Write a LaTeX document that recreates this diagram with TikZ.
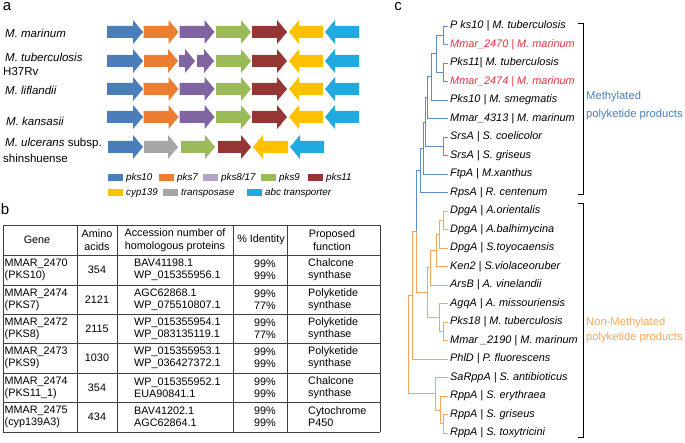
\documentclass[tikz,border=0pt]{standalone}
\usepackage{fontspec}
\setmainfont{Liberation Sans}
\definecolor{blu}{HTML}{4A7EBB}
\definecolor{arancio}{HTML}{ED7D31}
\definecolor{viola}{HTML}{8064A2}
\definecolor{lilla}{HTML}{B3A2C7}
\definecolor{verde}{HTML}{9BBB59}
\definecolor{rosso}{HTML}{963634}
\definecolor{giallo}{HTML}{FFC000}
\definecolor{ciano}{HTML}{21A9E1}
\definecolor{grigio}{HTML}{A6A6A6}
\definecolor{ramoblu}{HTML}{5B8ED0}
\definecolor{ramoaranc}{HTML}{F5A65B}
\definecolor{rossoetich}{HTML}{E5333B}
\begin{document}
\begin{tikzpicture}[x=1pt,y=-1pt,
    lettera/.style={inner sep=0pt,font=\fontsize{15}{15}\selectfont},
    specie/.style={anchor=west,inner sep=0pt,font=\fontsize{11.5}{12}\selectfont},
    legenda/.style={anchor=west,inner sep=0pt,font=\fontsize{9.8}{10}\selectfont\itshape},
    tab/.style={inner sep=0pt,font=\fontsize{10.8}{12}\selectfont},
    testa/.style={inner sep=0pt,align=center,font=\fontsize{10.8}{13.5}\selectfont},
    linea/.style={line width=0.8pt,black!75},
    foglia/.style={anchor=west,inner xsep=2pt,inner ysep=0pt,font=\fontsize{10.9}{11}\selectfont\itshape},
    ramo/.style={line width=0.8pt},
    gruppo/.style={anchor=west,inner sep=0pt,font=\fontsize{11.2}{12}\selectfont}]
    \useasboundingbox (0,0) rectangle (685,443);
    % --- macro riutilizzabili -----------------------------------------
    \def\freccia#1#2#3#4{\fill[#4] (#1,#3-6) -- (#2-10,#3-6) -- (#2-10,#3-12)
        -- (#2,#3) -- (#2-10,#3+12) -- (#2-10,#3+6) -- (#1,#3+6) -- cycle;}
    \def\frecciasx#1#2#3#4{\fill[#4] (#2,#3-6) -- (#1+10,#3-6) -- (#1+10,#3-12)
        -- (#1,#3) -- (#1+10,#3+12) -- (#1+10,#3+6) -- (#2,#3+6) -- cycle;}
    \def\unisci#1#2#3#4{\draw[ramo,#1] (#2) |- (#3) (#2) |- (#4);}
    % --- pannello a ---------------------------------------------------
    \node[lettera] (la) at (7,7) {a};
    \node[specie] (sp1) at (5,33) {\itshape M. marinum};
    \node[specie] (sp2) at (5,57) {\itshape M. tuberculosis};
    \node[specie] (sp2b) at (3,72) {H37Rv};
    \node[specie] (sp3) at (5,90) {\itshape M. liflandii};
    \node[specie] (sp4) at (6,121) {\itshape M. kansasii};
    \node[specie] (sp5) at (5,144) {\itshape M. ulcerans \upshape subsp.};
    \node[specie] (sp5b) at (3,158) {shinshuense};
    % --- frecce dei geni ----------------------------------------------
    \foreach \yy in {32,89,117}{
        \freccia{107}{143}{\yy}{blu}
        \freccia{143.5}{178.5}{\yy}{arancio}
        \freccia{179.5}{214.5}{\yy}{viola}
        \freccia{216}{251}{\yy}{verde}
        \freccia{252}{287}{\yy}{rosso}
        \frecciasx{289}{323}{\yy}{giallo}
        \frecciasx{325}{359}{\yy}{ciano}
    }
    \freccia{107}{143}{61}{blu}
    \freccia{144}{178}{61}{arancio}
    \freccia{179}{195}{61}{viola}
    \freccia{197}{214}{61}{viola}
    \freccia{216}{251}{61}{verde}
    \freccia{252}{287}{61}{rosso}
    \frecciasx{289}{323}{61}{giallo}
    \frecciasx{325}{359}{61}{ciano}
    \freccia{108}{143}{147}{blu}
    \freccia{144}{178}{147}{grigio}
    \freccia{181}{215}{147}{verde}
    \freccia{218}{251}{147}{rosso}
    \frecciasx{253}{288}{147}{giallo}
    \frecciasx{290}{324}{147}{ciano}
    % --- legenda ------------------------------------------------------
    \foreach \xx/\col/\nome in {108/blu/pks10,159/arancio/pks7,203/lilla/pks8\slash17,
                                261/verde/pks9,308/rosso/pks11}{
        \fill[\col] (\xx,174.5) rectangle (\xx+15,181);
        \node[legenda] at (\xx+18,178) {\nome};
    }
    \foreach \xx/\col/\nome in {108/giallo/cyp139,163/grigio/transposase,247/ciano/abc transporter}{
        \fill[\col] (\xx,189.5) rectangle (\xx+15,196);
        \node[legenda] at (\xx+18,193) {\nome};
    }
    % --- pannello b: tabella ------------------------------------------
    \node[lettera] (lb) at (5,209) {b};
    \foreach \yy in {225,255,285,314,343,373,402,432}
        \draw[linea] (3,\yy) -- (380,\yy);
    \foreach \xx in {3,77,117,233,287,380}
        \draw[linea] (\xx,225) -- (\xx,432);
    \node[testa] (tgene) at (37,240) {Gene};
    \node[testa] (tamino) at (97,240) {Amino\\acids};
    \node[testa] (tacc) at (175,240) {Accession number of\\homologous proteins};
    \node[testa] (tide) at (261,240) {\% Identity};
    \node[testa] (tfun) at (332,240) {Proposed\\function};
    \foreach \yy/\gen/\aa/\acc/\ide/\fun [count=\k] in {
        270/{MMAR\_2470\\(PKS10)}/354/{BAV41198.1\\WP\_015355956.1}/{99\%\\99\%}/{Chalcone\\synthase},
        299.5/{MMAR\_2474\\(PKS7)}/2121/{AGC62868.1\\WP\_075510807.1}/{99\%\\77\%}/{Polyketide\\synthase},
        328.5/{MMAR\_2472\\(PKS8)}/2115/{WP\_015355954.1\\WP\_083135119.1}/{99\%\\77\%}/{Polyketide\\synthase},
        358/{MMAR\_2473\\(PKS9)}/1030/{WP\_015355953.1\\WP\_036427372.1}/{99\%\\99\%}/{Polyketide\\synthase},
        387.5/{MMAR\_2474\\(PKS11\_1)}/354/{WP\_015355952.1\\EUA90841.1}/{99\%\\99\%}/{Chalcone\\synthase},
        417/{MMAR\_2475\\(cyp139A3)}/434/{BAV41202.1\\AGC62864.1}/{99\%\\99\%}/{Cytochrome\\P450}}{
        \node[tab,anchor=west,align=left] (gen\k) at (4.5,\yy) {\gen};
        \node[tab] (aa\k) at (97,\yy) {\aa};
        \node[tab,anchor=west,align=left] (acc\k) at (134,\yy) {\acc};
        \node[tab,align=center] (ide\k) at (265,\yy) {\ide};
        \node[tab,anchor=west,align=left] (fun\k) at (308,\yy) {\fun};
    }
    % --- pannello c: albero -------------------------------------------
    \node[lettera] (lc) at (398,7) {c};
    \foreach \i/\testo/\col in {
        0/{P ks10 | M. tuberculosis}/black,
        1/{Mmar\_2470 | M. marinum}/rossoetich,
        2/{Pks11| M. tuberculosis}/black,
        3/{Mmar\_2474 | M. marinum}/rossoetich,
        4/{Pks10 | M. smegmatis}/black,
        5/{Mmar\_4313 | M. marinum}/black,
        6/{SrsA | S. coelicolor}/black,
        7/{SrsA | S. griseus}/black,
        8/{FtpA | M.xanthus}/black,
        9/{RpsA | R. centenum}/black,
        10/{DpgA | A.orientalis}/black,
        11/{DpgA | A.balhimycina}/black,
        12/{DpgA | S.toyocaensis}/black,
        13/{Ken2 | S.violaceoruber}/black,
        14/{ArsB | A. vinelandii}/black,
        15/{AgqA | A. missouriensis}/black,
        16/{Pks18 | M. tuberculosis}/black,
        17/{Mmar \_2190 | M. marinum}/black,
        18/{PhlD | P. fluorescens}/black,
        19/{SaRppA | S. antibioticus}/black,
        20/{RppA | S. erythraea}/black,
        21/{RppA | S. griseus}/black,
        22/{RppA | S. toxytricini}/black}
        \node[foglia,text=\col] (f\i) at (448,26+18.5*\i) {\testo};
    % nodi interni
    \coordinate (n1) at (443,35.25);
    \coordinate (n2) at (443,72.25);
    \coordinate (n3) at (436,53.75);
    \coordinate (n4) at (431,76.9);
    \coordinate (n5) at (427,97.7);
    \coordinate (n6) at (443,146.25);
    \coordinate (n7) at (425,122);
    \coordinate (n8) at (423,148);
    \coordinate (n9) at (420,170.25);
    \coordinate (o1) at (443,220.25);
    \coordinate (o2) at (439,234.1);
    \coordinate (o3) at (436,250.3);
    \coordinate (o4) at (430,267.6);
    \coordinate (o5) at (443,331.25);
    \coordinate (o6) at (439,317.4);
    \coordinate (o7) at (427,292.5);
    \coordinate (M) at (416,231.4);
    \coordinate (P) at (412,295.2);
    \coordinate (r1) at (443,423.75);
    \coordinate (r2) at (440,409.9);
    \coordinate (r3) at (435,393.7);
    \coordinate (radice) at (408,344.4);
    % rami metilati
    \unisci{ramoblu}{n1}{f0.west}{f1.west}
    \unisci{ramoblu}{n2}{f2.west}{f3.west}
    \unisci{ramoblu}{n3}{n1}{n2}
    \unisci{ramoblu}{n4}{n3}{f4.west}
    \unisci{ramoblu}{n5}{n4}{f5.west}
    \unisci{ramoblu}{n6}{f6.west}{f7.west}
    \unisci{ramoblu}{n7}{n5}{n6}
    \unisci{ramoblu}{n8}{n7}{f8.west}
    \unisci{ramoblu}{n9}{n8}{f9.west}
    \draw[ramo,ramoblu] (M) |- (n9);
    % rami non metilati
    \draw[ramo,ramoaranc] (M) |- (o7);
    \unisci{ramoaranc}{o1}{f10.west}{f11.west}
    \unisci{ramoaranc}{o2}{o1}{f12.west}
    \unisci{ramoaranc}{o3}{o2}{f13.west}
    \unisci{ramoaranc}{o4}{o3}{f14.west}
    \unisci{ramoaranc}{o5}{f16.west}{f17.west}
    \unisci{ramoaranc}{o6}{f15.west}{o5}
    \unisci{ramoaranc}{o7}{o4}{o6}
    \unisci{ramoaranc}{P}{M}{f18.west}
    \unisci{ramoaranc}{r1}{f21.west}{f22.west}
    \unisci{ramoaranc}{r2}{f20.west}{r1}
    \unisci{ramoaranc}{r3}{f19.west}{r2}
    \unisci{ramoaranc}{radice}{P}{r3}
    % --- parentesi e gruppi -------------------------------------------
    \draw[line width=0.9pt] (578,23) -- (583,23) -- (583,194) -- (578,194);
    \draw[line width=0.9pt] (578,203) -- (583,203) -- (583,437) -- (578,437);
    \node[gruppo,text=blu] (met1) at (586,97) {Methylated};
    \node[gruppo,text=blu] (met2) at (586,115) {polyketide products};
    \node[gruppo,text=ramoaranc] (nmet1) at (586,323) {Non-Methylated};
    \node[gruppo,text=ramoaranc] (nmet2) at (586,338) {polyketide products};
\end{tikzpicture}
\end{document}
